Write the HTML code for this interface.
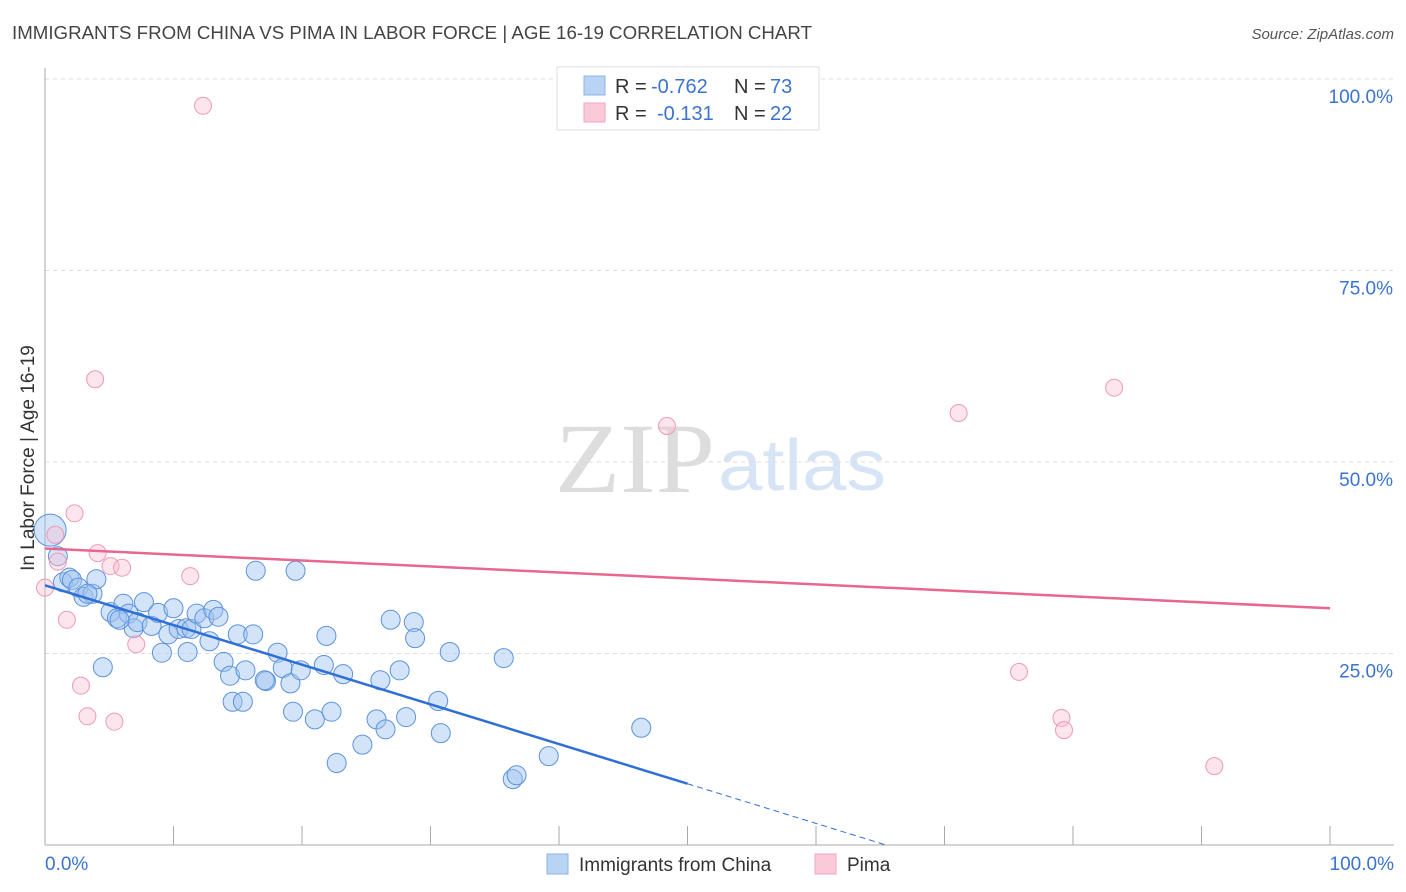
<!DOCTYPE html>
<html><head><meta charset="utf-8"><style>
body{margin:0;background:#fff;font-family:"Liberation Sans",sans-serif;}
svg{display:block}
</style></head><body>
<svg id="chart" width="1406" height="892">
<text x="12" y="39" font-size="18" fill="#444" textLength="800" lengthAdjust="spacingAndGlyphs">IMMIGRANTS FROM CHINA VS PIMA IN LABOR FORCE | AGE 16-19 CORRELATION CHART</text>
<text x="1394" y="39" font-size="15" fill="#555" font-style="italic" text-anchor="end">Source: ZipAtlas.com</text>
<text x="555" y="492" font-size="100" fill="#ddd" textLength="160" lengthAdjust="spacingAndGlyphs" font-family="Liberation Serif,serif">ZIP</text>
<text x="718" y="490" font-size="72" fill="#d6e4f5" textLength="168" lengthAdjust="spacingAndGlyphs">atlas</text>
<g id="grid"></g><g id="marks"></g>
<text transform="translate(34,458) rotate(-90)" font-size="19" fill="#333" text-anchor="middle">In Labor Force | Age 16-19</text>
<g>
<rect x="557" y="67" width="262" height="63" fill="#fff" stroke="#ddd"/>
<rect x="584" y="76" width="21" height="19" fill="#b9d3f5" stroke="#8fb3e6"/>
<rect x="584" y="103" width="21" height="19" fill="#fbcad8" stroke="#f0a5bb"/>
<text x="615" y="93" font-size="20" fill="#333">R =</text>
<text x="651" y="93" font-size="20" fill="#3a73d0">-0.762</text>
<text x="734" y="93" font-size="20" fill="#333">N =</text>
<text x="770" y="93" font-size="20" fill="#3a73d0">73</text>
<text x="615" y="120" font-size="20" fill="#333">R =</text>
<text x="657" y="120" font-size="20" fill="#3a73d0">-0.131</text>
<text x="734" y="120" font-size="20" fill="#333">N =</text>
<text x="770" y="120" font-size="20" fill="#3a73d0">22</text>
</g>
<g>
<rect x="547" y="854" width="21" height="20" fill="#b9d3f5" stroke="#8fb3e6"/>
<text x="579" y="871" font-size="19" fill="#333">Immigrants from China</text>
<rect x="815" y="854" width="21" height="20" fill="#fbcad8" stroke="#f0a5bb"/>
<text x="847" y="871" font-size="19" fill="#333">Pima</text>
</g>
<text x="45" y="870" font-size="19" fill="#3a73d0">0.0%</text>
<text x="1394" y="870" font-size="19" fill="#3a73d0" text-anchor="end">100.0%</text>
</svg>
<script>
const yTicks=[100,75,50,25];
const yTickLabels=["100.0%","75.0%","50.0%","25.0%"];
const chinaX=[0.4,1.0,1.4,1.9,2.1,2.6,3.0,3.7,4.0,5.1,5.6,6.1,6.5,6.9,7.7,7.2,8.3,8.8,9.1,9.6,10.0,10.4,11.0,11.1,11.4,11.8,12.4,12.8,13.1,13.5,13.9,14.4,14.6,15.0,15.4,15.6,16.2,16.4,17.2,18.1,18.5,19.1,19.3,19.5,19.9,21.0,21.9,21.7,22.3,22.7,23.2,24.7,25.8,26.1,26.5,26.9,27.6,28.1,28.7,28.8,30.6,30.8,31.5,35.7,36.4,36.7,39.2,46.4,4.5,3.3,5.8,17.1];
const chinaY=[41.1,37.7,34.3,34.9,34.6,33.6,32.4,32.8,34.7,30.4,29.6,31.5,30.2,28.3,31.7,29.1,28.6,30.3,25.1,27.5,30.9,28.2,28.3,25.2,28.2,30.2,29.6,26.6,30.7,29.8,23.9,22.1,18.7,27.5,18.7,22.8,27.5,35.8,21.4,25.1,23.1,21.1,17.4,35.8,22.8,16.4,27.3,23.5,17.4,10.7,22.3,13.1,16.4,21.5,15.1,29.4,22.8,16.7,29.1,27.0,18.8,14.6,25.2,24.4,8.6,9.1,11.6,15.3,23.2,32.8,29.4,21.5];
const pimaX=[0,0.8,1.0,2.3,4.1,5.1,6.0,1.7,2.8,3.3,5.4,7.1,11.3,3.9,12.3,48.4,71.1,83.2,75.8,79.1,79.3,91.0];
const pimaY=[33.6,40.5,37.0,43.3,38.1,36.4,36.2,29.4,20.8,16.8,16.1,26.2,35.1,60.8,96.5,54.7,56.4,59.7,22.6,16.6,15.0,10.3];
const chinaTrend=[33.9,8.0]; // value at x=0 and x=50
const pimaTrend=[38.7,30.9]; // value at x=0 and x=100
const X0=45,X1=1330,Y0=845,Y100=79;
const sx=v=>X0+(X1-X0)*v/100, sy=v=>Y0-(Y0-Y100)*v/100;
const NS="http://www.w3.org/2000/svg";
const grid=document.getElementById('grid'),marks=document.getElementById('marks');
function mk(tag,attrs,parent){const e=document.createElementNS(NS,tag);for(const k in attrs)e.setAttribute(k,attrs[k]);parent.appendChild(e);return e;}
yTicks.forEach((t,i)=>{
 const l=mk('line',{x1:45,x2:1394,y1:sy(t),y2:sy(t),stroke:'#ddd','stroke-dasharray':'4,4'},grid);
 
 
 const tx=mk('text',{x:1393,y:sy(t)+24,'font-size':19,fill:'#3a73d0','text-anchor':'end'},grid);
 tx.textContent=yTickLabels[i];
 
 
});
const ax=mk('line',{x1:45,x2:45,y1:68,y2:845,stroke:'#aaa'},grid);


const bx=mk('line',{x1:45,x2:1394,y1:845,y2:845,stroke:'#aaa'},grid);


for(let i=0;i<=10;i++){
 const tk=mk('line',{x1:sx(i*10),x2:sx(i*10),y1:826,y2:845,stroke:'#aaa'},grid);
 
 
}
chinaX.forEach((v,i)=>{
 const c=mk('circle',{cx:sx(v),cy:sy(chinaY[i]),r:i==0?16:9.5,fill:'rgba(160,196,240,0.45)',stroke:'#5b93dd','stroke-width':1},marks);
 
 
});
pimaX.forEach((v,i)=>{
 const c=mk('circle',{cx:sx(v),cy:sy(pimaY[i]),r:8.5,fill:'rgba(250,190,210,0.4)',stroke:'#ee9ab4','stroke-width':1},marks);
 
 
});
const slope=(chinaTrend[1]-chinaTrend[0])/50;
const xEnd=-chinaTrend[0]/slope;
const t1=mk('line',{x1:sx(0),y1:sy(chinaTrend[0]),x2:sx(50),y2:sy(chinaTrend[1]),stroke:'#2f6fd6','stroke-width':2.5},marks);


const t2=mk('line',{x1:sx(50),y1:sy(chinaTrend[1]),x2:sx(xEnd),y2:sy(0),stroke:'#2f6fd6','stroke-width':1,'stroke-dasharray':'6,4'},marks);


const t3=mk('line',{x1:sx(0),y1:sy(pimaTrend[0]),x2:sx(100),y2:sy(pimaTrend[1]),stroke:'#e8678f','stroke-width':2.5},marks);


</script>
</body></html>
